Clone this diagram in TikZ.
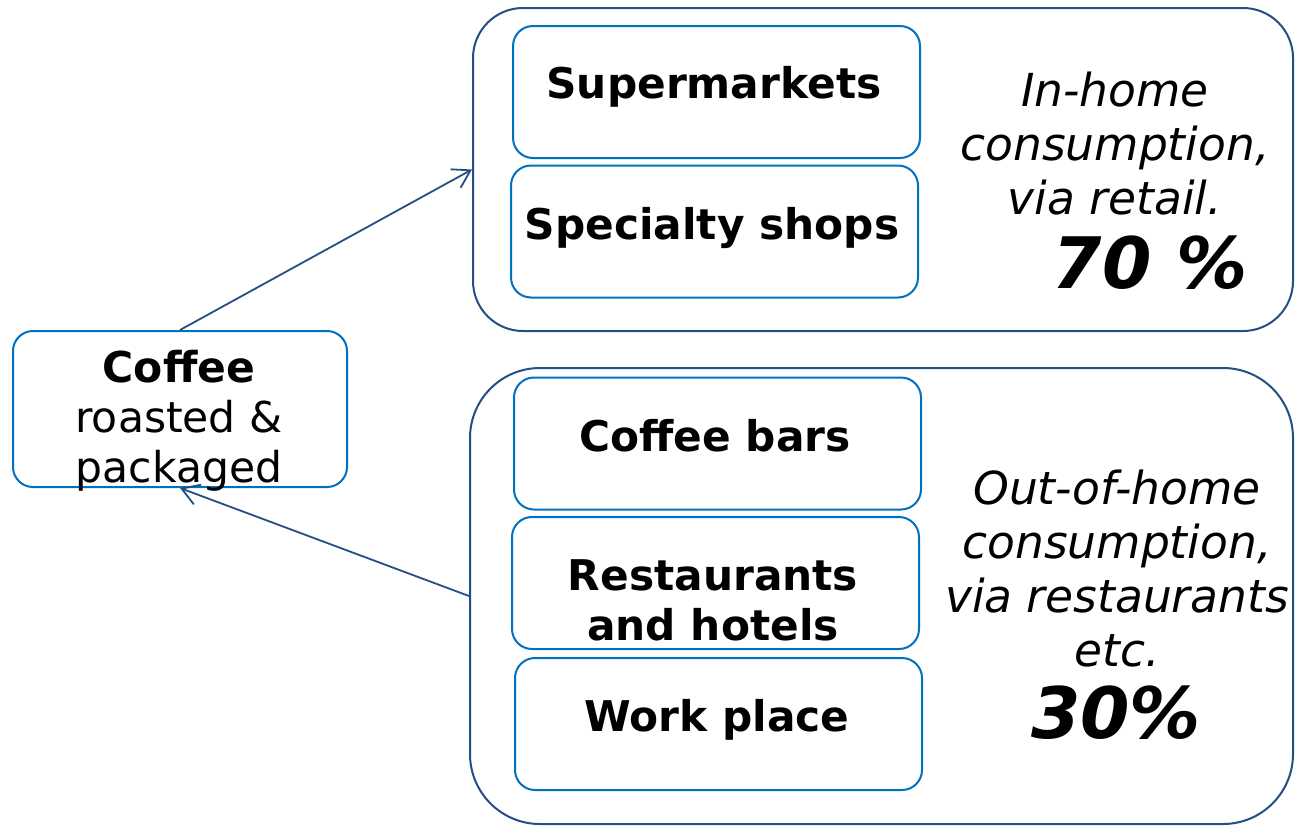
\documentclass[tikz,border=0pt]{standalone}
\usepackage{fontspec}
\setmainfont{DejaVu Sans}
\usetikzlibrary{arrows.meta}
\definecolor{darkb}{RGB}{37,78,130}
\definecolor{lightb}{RGB}{0,112,192}
\tikzset{
  inner/.style={draw=lightb, line width=2pt, rounded corners=20pt, minimum width=407pt, minimum height=132pt, inner sep=0pt},
  boxtext/.style={align=center, inner sep=0pt, font=\fontsize{42.3}{50}\selectfont\bfseries},
  outer/.style={draw=darkb, line width=2pt, inner sep=0pt},
  conn/.style={draw=darkb, line width=1.8pt, -{Straight Barb[length=17pt,width=21pt,line width=1.8pt]}},
  side/.style={align=center, font=\fontsize{45.5}{54}\selectfont\itshape, inner sep=0pt},
  pct/.style={font=\fontsize{71}{75}\selectfont\bfseries\itshape, inner sep=0pt}
}
\begin{document}
\begin{tikzpicture}[x=1pt,y=-1pt]
\useasboundingbox (0,0) rectangle (1295,825);
% outer boxes
\node[outer, rounded corners=50pt, minimum width=820pt, minimum height=323pt] (up) at (883,169.5) {};
\node[outer, rounded corners=70pt, minimum width=823pt, minimum height=456pt] (low) at (881.5,596) {};
% inner boxes
\node[inner] (sup) at (716.5,92) {};
\node[inner] (spec) at (714.5,231.5) {};
\node[inner] (bars) at (717.5,443.5) {};
\node[inner] (rest) at (715.5,583) {};
\node[inner] (work) at (718.5,724) {};
\node[boxtext] (tsup) at (714,87) {Supermarkets};
\node[boxtext] (tspec) at (712,227.5) {Specialty shops};
\node[boxtext] (tbars) at (715,435.5) {Coffee bars};
\node[boxtext] (trest) at (713,600) {Restaurants\\and hotels};
\node[boxtext] (twork) at (717,720) {Work place};
% side texts
\node[side] (intext) at (1115,144) {In-home\\consumption,\\via retail.};
\node[pct] (p70) at (1150,263) {70 \%};
\node[side] (outtext) at (1117,569) {Out-of-home\\consumption,\\via restaurants\\etc.};
\node[pct] (p30) at (1116,713) {30\%};
% coffee
\node[draw=lightb, line width=2pt, rounded corners=20pt, minimum width=334pt, minimum height=156pt, inner sep=0pt] (coffee) at (180,409) {};
\node[align=center, inner sep=0pt, font=\fontsize{42.5}{50}\selectfont] (tcoffee) at (179,421) {\textbf{Coffee}\\roasted \&\\packaged};
% connectors
\draw[conn] (coffee.north) -- (up.west);
\draw[conn] (low.west) -- (coffee.south);
\end{tikzpicture}
\end{document}
